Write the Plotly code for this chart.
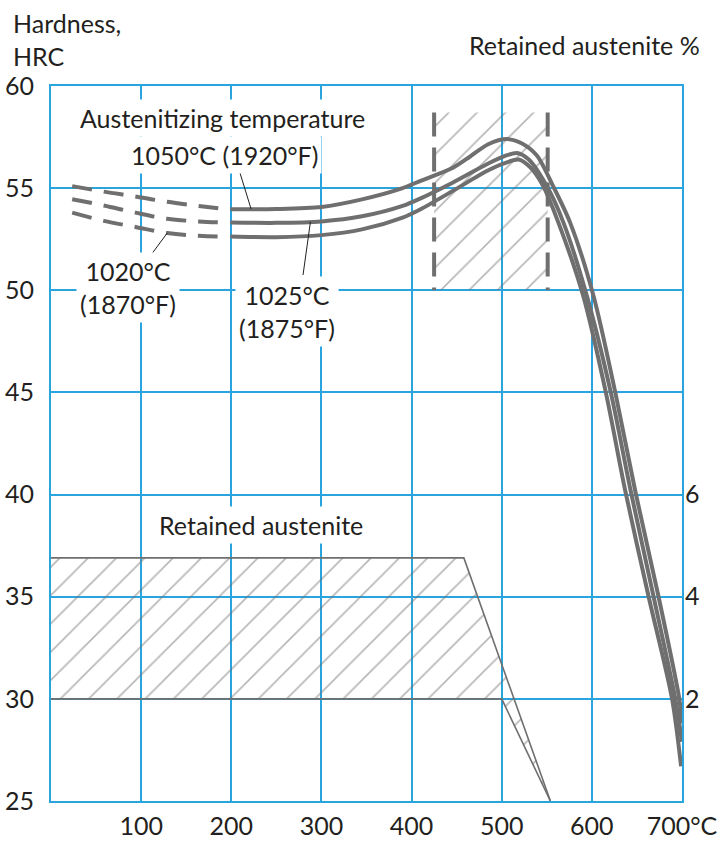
import numpy as np
import plotly.graph_objects as go

# ---- hardness after tempering (HRC) vs tempering temperature (°C) ----
# dashed (extrapolated) low-temperature part of each curve
temp_dash = [23.5, 58.6, 93.7, 128.9, 164, 188]
hrc_1050_dash = [55.1, 54.83, 54.59, 54.33, 54.13, 54.0]
hrc_1025_dash = [54.46, 54.15, 53.8, 53.5, 53.37, 53.32]
hrc_1020_dash = [53.8, 53.4, 53.1, 52.8, 52.67, 52.63]

# measured (solid) part of each curve
temp_1050 = [199, 250, 300, 345, 390, 410, 446, 465, 485, 506, 522, 539, 557, 576, 602, 626, 648, 674, 697, 700]
hrc_1050 = [53.97, 53.98, 54.08, 54.45, 55.0, 55.36, 56.0, 56.55, 57.15, 57.4, 57.2, 56.6, 55.1, 53.3, 49.7, 45.0, 40.2, 35.0, 30.0, 28.8]

temp_1025 = [199, 250, 300, 345, 390, 410, 446, 484, 505, 517, 530, 550, 568.6, 594.6, 621, 643, 668.5, 692.6, 700]
hrc_1025 = [53.32, 53.3, 53.37, 53.62, 54.13, 54.5, 55.28, 56.18, 56.6, 56.72, 56.4, 55.1, 53.3, 49.7, 45.0, 40.2, 35.0, 30.0, 27.9]

temp_1020 = [199, 250, 300, 345, 390, 410, 446, 484, 505, 519, 532, 546, 563, 590.6, 615.5, 637, 663, 689, 699]
hrc_1020 = [52.63, 52.6, 52.7, 52.98, 53.56, 53.97, 54.87, 55.85, 56.25, 56.4, 56.0, 55.1, 53.3, 49.7, 45.0, 40.2, 35.0, 30.0, 26.7]

# ---- retained austenite band (%) ----
aust_upper_temp = [0, 458, 554]
aust_upper_pct = [4.76, 4.76, 0.0]
aust_lower_temp = [0, 500, 554]
aust_lower_pct = [2.0, 2.0, 0.0]

# ---- tempering range giving secondary hardness ----
range_temp = [425, 551]
range_hrc = [50, 58.7]

# ---- axes ----
x_ticks = [100, 200, 300, 400, 500, 600, 700]
x_ticktext = ["100", "200", "300", "400", "500", "600", "700°C"]
y_ticks = [25, 30, 35, 40, 45, 50, 55, 60]
y2_ticks = [2, 4, 6]

BLUE = "#2aa4de"
GREY = "#6f6f6f"
HATCH = "#6e6e6e"
INK = "#231f20"
FONT = "Lato"
FS = 25

fig = go.Figure()

hatch = dict(shape="/", size=20, solidity=0.08, fgcolor=HATCH, bgcolor="rgba(0,0,0,0)")

# retained austenite hatched area
band_x = aust_upper_temp + aust_lower_temp[::-1]
band_y = aust_upper_pct + aust_lower_pct[::-1]
fig.add_trace(go.Scatter(x=band_x, y=band_y, yaxis="y2", mode="lines", fill="toself",
                         fillcolor="rgba(0,0,0,0)", fillpattern=hatch,
                         line=dict(width=0), hoverinfo="skip", showlegend=False))
fig.add_trace(go.Scatter(x=aust_upper_temp, y=aust_upper_pct, yaxis="y2", mode="lines",
                         line=dict(color=GREY, width=1.6), hoverinfo="skip", showlegend=False))
fig.add_trace(go.Scatter(x=aust_lower_temp, y=aust_lower_pct, yaxis="y2", mode="lines",
                         line=dict(color=GREY, width=1.6), hoverinfo="skip", showlegend=False))

# hatched tempering range with dashed side borders
rx = [range_temp[0], range_temp[0], range_temp[1], range_temp[1]]
ry = [range_hrc[0], range_hrc[1], range_hrc[1], range_hrc[0]]
fig.add_trace(go.Scatter(x=rx, y=ry, mode="lines", fill="toself",
                         fillcolor="rgba(0,0,0,0)", fillpattern=hatch,
                         line=dict(width=0), hoverinfo="skip", showlegend=False))
for t in range_temp:
    fig.add_trace(go.Scatter(x=[t, t], y=[range_hrc[1], range_hrc[0]], mode="lines",
                             line=dict(color=GREY, width=4, dash="24px,11px"),
                             hoverinfo="skip", showlegend=False))

# hardness curves
for hd in (hrc_1050_dash, hrc_1025_dash, hrc_1020_dash):
    fig.add_trace(go.Scatter(x=temp_dash, y=hd, mode="lines", line_shape="spline",
                             line=dict(color=GREY, width=4, dash="20px,12px"),
                             hoverinfo="skip", showlegend=False))
for tx, hy in ((temp_1050, hrc_1050), (temp_1025, hrc_1025), (temp_1020, hrc_1020)):
    fig.add_trace(go.Scatter(x=tx, y=hy, mode="lines", line_shape="spline",
                             line=dict(color=GREY, width=4, smoothing=0.8),
                             hoverinfo="skip", showlegend=False))

# leader lines from labels to curves
leaders = [
    ((209.7, 55.74), 222, temp_1050, hrc_1050),
    ((112.8, 51.84), 128.9, temp_dash, hrc_1020_dash),
    ((279.6, 50.75), 287.8, temp_1025, hrc_1025),
]
for (lx, ly), cx, tx, hy in leaders:
    cy = float(np.interp(cx, tx, hy))
    fig.add_shape(type="line", x0=lx, y0=ly, x1=cx, y1=cy, xref="x", yref="y",
                  line=dict(color=INK, width=1))

labels = [
    ("Austenitizing temperature", 189.7, 58.43),
    ("1050°C (1920°F)", 193, 56.62),
    ("1020°C<br>(1870°F)", 85.4, 50.16),
    ("1025°C<br>(1875°F)", 261.8, 48.94),
    ("Retained austenite", 233, 38.51),
]
for txt, lx, ly in labels:
    fig.add_annotation(x=lx, y=ly, xref="x", yref="y", text=txt, showarrow=False,
                       font=dict(family=FONT, size=FS, color=INK), bgcolor="white",
                       borderpad=3, align="center")

fig.add_annotation(x=-40 / 631, y=1 + (86 - 6) / 715, xref="paper", yref="paper",
                   text="Hardness,<br>HRC", showarrow=False, xanchor="left", yanchor="top",
                   align="left", font=dict(family=FONT, size=FS, color=INK))
fig.add_annotation(x=(702 - 51) / 631, y=1 + (86 - 45) / 715, xref="paper", yref="paper",
                   text="Retained austenite %", showarrow=False, xanchor="right",
                   yanchor="middle", font=dict(family=FONT, size=FS, color=INK))

axis_common = dict(showgrid=True, gridcolor=BLUE, gridwidth=2, showline=True,
                   linecolor=BLUE, linewidth=2, mirror=True, zeroline=False, ticks="",
                   automargin=False, tickfont=dict(family=FONT, size=FS, color=INK))

fig.update_layout(
    width=721, height=842,
    margin=dict(l=51, r=39, t=86, b=41),
    paper_bgcolor="white", plot_bgcolor="white",
    showlegend=False,
    xaxis=dict(range=[0, 700], tickvals=x_ticks, ticktext=x_ticktext,
               ticklabelstandoff=2, **axis_common),
    yaxis=dict(range=[25, 60], tickvals=y_ticks, ticklabelstandoff=10, **axis_common),
    yaxis2=dict(range=[0, 14], tickvals=y2_ticks, overlaying="y", side="right",
                showgrid=False, showline=False, zeroline=False, ticks="", automargin=False,
                ticklabelstandoff=2, tickfont=dict(family=FONT, size=FS, color=INK)),
)

fig.write_html("out.html")
